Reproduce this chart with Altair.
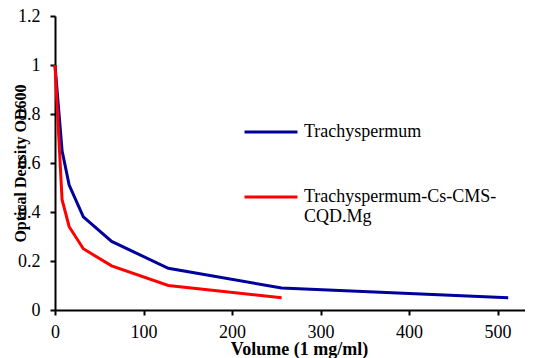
import altair as alt
import pandas as pd

volume_a = [0, 8, 16, 32, 64, 128, 256, 512]
od_a = [1.0, 0.65, 0.51, 0.38, 0.28, 0.17, 0.09, 0.05]
volume_b = [0, 8, 16, 32, 64, 128, 256]
od_b = [1.0, 0.45, 0.34, 0.25, 0.18, 0.10, 0.05]
series_names = ["Trachyspermum", "Trachyspermum-Cs-CMS-CQD.Mg"]
series_colors = ["#00009A", "#FF0000"]

rows = []
for i, (v, o) in enumerate(zip(volume_a, od_a)):
    rows.append({"volume": v, "od": o, "series": series_names[0], "order": i})
for i, (v, o) in enumerate(zip(volume_b, od_b)):
    rows.append({"volume": v, "od": o, "series": series_names[1], "order": i})
df = pd.DataFrame(rows)

FONT = "'Liberation Serif', 'Times New Roman', Times, serif"

chart = alt.Chart(df).mark_line(strokeWidth=3).encode(
    x=alt.X("volume:Q",
            scale=alt.Scale(domain=[0, 531], nice=False),
            axis=alt.Axis(title="Volume (1 mg/ml)", values=[0, 100, 200, 300, 400, 500],
                          grid=False, domainColor="black", domainWidth=2,
                          tickColor="black", tickWidth=2, tickSize=5,
                          labelFont=FONT, labelFontSize=18, labelColor="black",
                          labelPadding=8, labelFlush=False,
                          titleFont=FONT, titleFontSize=18, titleFontWeight="bold",
                          titleColor="black", titleX=244, titleY=44,
                          titleBaseline="alphabetic")),
    y=alt.Y("od:Q",
            scale=alt.Scale(domain=[0, 1.2], nice=False),
            axis=alt.Axis(title="Optical Density OD600", values=[0, 0.2, 0.4, 0.6, 0.8, 1.0, 1.2],
                          labelExpr="format(datum.value, '~g')",
                          grid=False, domainColor="black", domainWidth=2,
                          tickColor="black", tickWidth=2, tickSize=5,
                          labelFont=FONT, labelFontSize=18, labelColor="black",
                          labelPadding=10, labelFlush=False,
                          titleFont=FONT, titleFontSize=16, titleFontWeight="bold",
                          titleColor="black", titleX=-35, titleY=147,
                          titleAlign="center", titleBaseline="middle", titleAngle=270)),
    color=alt.Color("series:N",
                    scale=alt.Scale(domain=series_names, range=series_colors),
                    legend=alt.Legend(title=None, orient="none", legendX=188, legendY=88,
                                      symbolType="stroke", symbolSize=2809,
                                      symbolStrokeWidth=3, labelFont=FONT,
                                      labelFontSize=18, labelColor="black",
                                      labelOffset=5, rowPadding=28, padding=0,
                                      labelLimit=400,
                                      labelExpr="datum.label == 'Trachyspermum-Cs-CMS-CQD.Mg' ? ['Trachyspermum-Cs-CMS-', 'CQD.Mg'] : datum.label")),
    order="order:Q",
).properties(
    width=470, height=294,
    autosize=alt.AutoSizeParams(type="none"),
    padding={"left": 47, "top": 8, "right": 0, "bottom": 48},
).configure_view(stroke=None)

chart.save("out.html", embed_options={"renderer": "svg", "actions": False})
